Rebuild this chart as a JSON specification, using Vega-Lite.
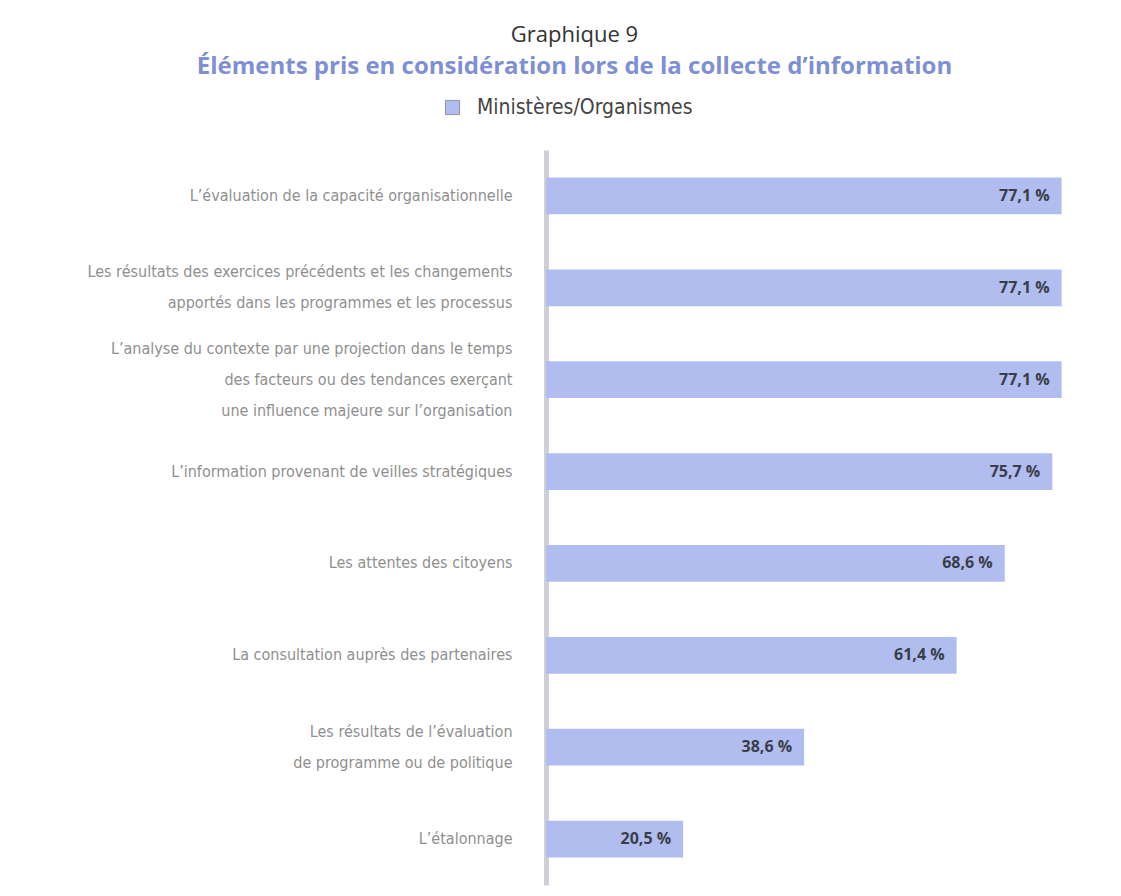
{
  "$schema": "https://vega.github.io/schema/vega-lite/v6.json",
  "autosize": {"type": "none"},
  "width": 535,
  "height": 735,
  "padding": {"left": 546, "top": 150, "right": 40, "bottom": 11},
  "background": "white",
  "title": {
    "text": "Graphique 9",
    "subtitle": "Éléments pris en considération lors de la collecte d’information",
    "anchor": "middle",
    "dx": -239,
    "offset": 17,
    "font": "Open Sans",
    "fontSize": 22,
    "fontWeight": "normal",
    "color": "#333333",
    "subtitleFont": "Open Sans",
    "subtitleFontSize": 24,
    "subtitleFontWeight": "bold",
    "subtitleColor": "#7f8fd3",
    "subtitlePadding": 8
  },
  "data": {
    "values": [
      {"element": "L’évaluation de la capacité organisationnelle", "serie": "Ministères/Organismes", "pct": 77.1, "label": "77,1 %"},
      {"element": "Les résultats des exercices précédents et les changements|apportés dans les programmes et les processus", "serie": "Ministères/Organismes", "pct": 77.1, "label": "77,1 %"},
      {"element": "L’analyse du contexte par une projection dans le temps|des facteurs ou des tendances exerçant|une influence majeure sur l’organisation", "serie": "Ministères/Organismes", "pct": 77.1, "label": "77,1 %"},
      {"element": "L’information provenant de veilles stratégiques", "serie": "Ministères/Organismes", "pct": 75.7, "label": "75,7 %"},
      {"element": "Les attentes des citoyens", "serie": "Ministères/Organismes", "pct": 68.6, "label": "68,6 %"},
      {"element": "La consultation auprès des partenaires", "serie": "Ministères/Organismes", "pct": 61.4, "label": "61,4 %"},
      {"element": "Les résultats de l’évaluation|de programme ou de politique", "serie": "Ministères/Organismes", "pct": 38.6, "label": "38,6 %"},
      {"element": "L’étalonnage", "serie": "Ministères/Organismes", "pct": 20.5, "label": "20,5 %"}
    ]
  },
  "encoding": {
    "y": {
      "field": "element",
      "type": "nominal",
      "sort": null,
      "scale": {"paddingInner": 0.6, "paddingOuter": 0.3},
      "axis": {
        "title": null,
        "ticks": false,
        "domain": true,
        "domainColor": "#cdd0d6",
        "domainWidth": 5,
        "labelExpr": "split(datum.label, '|')",
        "labelFont": "DejaVu Sans Condensed",
        "labelFontSize": 16,
        "labelColor": "#8f8f8f",
        "labelLineHeight": 31,
        "labelPadding": 34,
        "labelLimit": 600,
        "labelBaseline": "middle",
        "labelOffset": {
          "condition": [
            {"test": "length(split(datum.label, '|')) == 3", "value": -31},
            {"test": "length(split(datum.label, '|')) == 2", "value": -15.5}
          ],
          "value": 0
        }
      }
    },
    "x": {
      "field": "pct",
      "type": "quantitative",
      "scale": {"domain": [0, 80]},
      "axis": null
    }
  },
  "layer": [
    {
      "mark": {"type": "bar", "stroke": null},
      "encoding": {
        "color": {
          "field": "serie",
          "type": "nominal",
          "scale": {"range": ["#b1bdee"]},
          "legend": {
            "title": null,
            "orient": "none",
            "legendX": -104,
            "legendY": -53,
            "symbolType": "square",
            "symbolSize": 200,
            "symbolStrokeColor": "#8d93a8",
            "symbolStrokeWidth": 1,
            "symbolOpacity": 1,
            "labelFont": "DejaVu Sans Condensed",
            "labelFontSize": 21,
            "labelColor": "#444444",
            "labelOffset": 14,
            "labelLimit": 400
          }
        }
      }
    },
    {
      "mark": {
        "type": "text",
        "align": "right",
        "baseline": "middle",
        "dx": -12,
        "font": "Open Sans",
        "fontSize": 16,
        "fontWeight": "bold",
        "color": "#3a3d4a"
      },
      "encoding": {
        "text": {"field": "label"}
      }
    }
  ],
  "config": {
    "view": {"stroke": null}
  }
}
